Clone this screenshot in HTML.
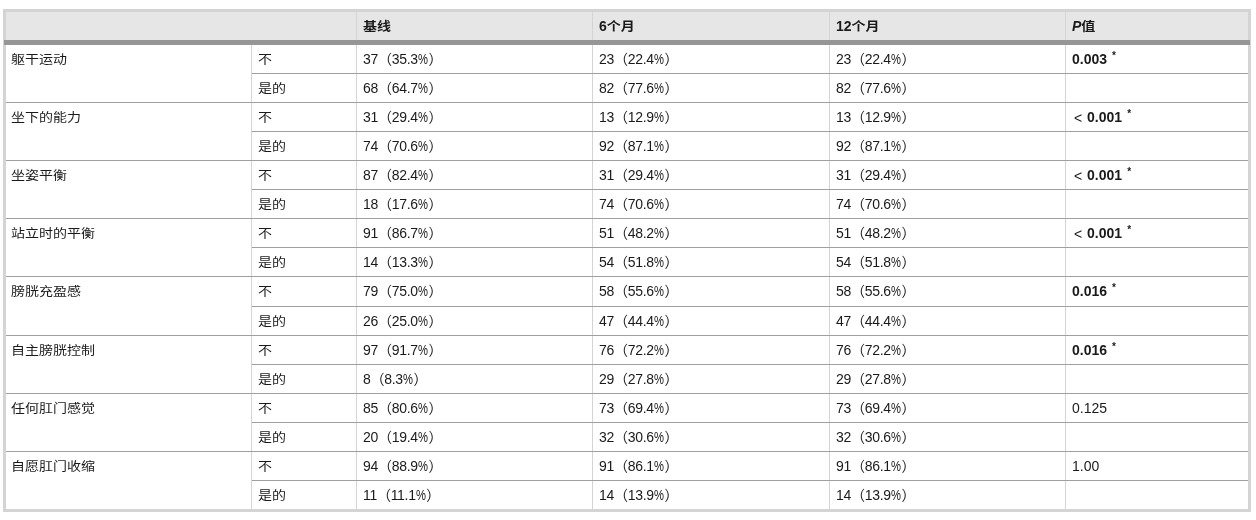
<!DOCTYPE html>
<html lang="zh-CN">
<head>
<meta charset="utf-8">
<title>表</title>
<style>
html,body{margin:0;padding:0;background:#fff;}
body{width:1256px;height:520px;overflow:hidden;position:relative;
  font-family:"Liberation Sans","Noto Sans CJK SC",sans-serif;font-size:14px;color:#1a1a1a;}
table{position:absolute;left:3px;top:9px;border-collapse:separate;border-spacing:0;
  border:3px solid #d4d4d4;table-layout:fixed;width:1248px;}
th,td{padding:0 0 0 6px;text-align:left;vertical-align:top;line-height:28px;white-space:nowrap;overflow:hidden;}
th{background:#e6e6e6;font-weight:bold;height:28px;border-bottom:5px solid #969696;}
th+th{border-left:1px solid #d4d4d4;}
td{height:28px;background:#fff;}
td.c1{background:linear-gradient(to left,#d4d4d4 1px,#fff 1px);padding-left:5px;}
td.c3,td.c4,td.c5,td.c6{background:linear-gradient(to right,#d4d4d4 1px,#fff 1px);padding-left:7px;}
td.c3,td.c4,td.c5{letter-spacing:-0.3px;}
tr.t td{border-top:1px solid #a0a0a0;}
tr.x td{height:29px;}
sup{font-size:10px;vertical-align:top;line-height:1;position:relative;top:6px;margin-left:5px;}
.z{display:inline-block;transform:scaleY(.87);transform-origin:0 60%;}
.pc{display:inline-block;transform:scaleX(.8);transform-origin:0 0;margin-right:-1.5px;}
.lt{position:relative;top:1px;margin-left:2px;margin-right:1px;}
.thick{position:absolute;left:4px;top:40px;width:1246px;height:5px;background:#969696;}
</style>
</head>
<body>
<table>
<colgroup><col style="width:246px"><col style="width:104px"><col style="width:236px"><col style="width:237px"><col style="width:236px"><col style="width:183px"></colgroup>
<thead><tr><th colspan="2"></th><th><span class="z">基线</span></th><th>6<span class="z">个月</span></th><th>12<span class="z">个月</span></th><th><i>P</i><span class="z">值</span></th></tr></thead>
<tbody>
<tr><td class="c1" rowspan="2"><span class="z">躯干运动</span></td><td class="c2"><span class="z">不</span></td><td class="c3">37（35.3<span class="pc">%</span>）</td><td class="c4">23（22.4<span class="pc">%</span>）</td><td class="c5">23（22.4<span class="pc">%</span>）</td><td class="c6"><b>0.003</b><sup><b>*</b></sup></td></tr>
<tr class="t"><td class="c2"><span class="z">是的</span></td><td class="c3">68（64.7<span class="pc">%</span>）</td><td class="c4">82（77.6<span class="pc">%</span>）</td><td class="c5">82（77.6<span class="pc">%</span>）</td><td class="c6"></td></tr>
<tr class="t"><td class="c1" rowspan="2"><span class="z">坐下的能力</span></td><td class="c2"><span class="z">不</span></td><td class="c3">31（29.4<span class="pc">%</span>）</td><td class="c4">13（12.9<span class="pc">%</span>）</td><td class="c5">13（12.9<span class="pc">%</span>）</td><td class="c6"><span class="lt">&lt;</span> <b>0.001</b><sup><b>*</b></sup></td></tr>
<tr class="t"><td class="c2"><span class="z">是的</span></td><td class="c3">74（70.6<span class="pc">%</span>）</td><td class="c4">92（87.1<span class="pc">%</span>）</td><td class="c5">92（87.1<span class="pc">%</span>）</td><td class="c6"></td></tr>
<tr class="t"><td class="c1" rowspan="2"><span class="z">坐姿平衡</span></td><td class="c2"><span class="z">不</span></td><td class="c3">87（82.4<span class="pc">%</span>）</td><td class="c4">31（29.4<span class="pc">%</span>）</td><td class="c5">31（29.4<span class="pc">%</span>）</td><td class="c6"><span class="lt">&lt;</span> <b>0.001</b><sup><b>*</b></sup></td></tr>
<tr class="t"><td class="c2"><span class="z">是的</span></td><td class="c3">18（17.6<span class="pc">%</span>）</td><td class="c4">74（70.6<span class="pc">%</span>）</td><td class="c5">74（70.6<span class="pc">%</span>）</td><td class="c6"></td></tr>
<tr class="t"><td class="c1" rowspan="2"><span class="z">站立时的平衡</span></td><td class="c2"><span class="z">不</span></td><td class="c3">91（86.7<span class="pc">%</span>）</td><td class="c4">51（48.2<span class="pc">%</span>）</td><td class="c5">51（48.2<span class="pc">%</span>）</td><td class="c6"><span class="lt">&lt;</span> <b>0.001</b><sup><b>*</b></sup></td></tr>
<tr class="t"><td class="c2"><span class="z">是的</span></td><td class="c3">14（13.3<span class="pc">%</span>）</td><td class="c4">54（51.8<span class="pc">%</span>）</td><td class="c5">54（51.8<span class="pc">%</span>）</td><td class="c6"></td></tr>
<tr class="t x"><td class="c1" rowspan="2"><span class="z">膀胱充盈感</span></td><td class="c2"><span class="z">不</span></td><td class="c3">79（75.0<span class="pc">%</span>）</td><td class="c4">58（55.6<span class="pc">%</span>）</td><td class="c5">58（55.6<span class="pc">%</span>）</td><td class="c6"><b>0.016</b><sup><b>*</b></sup></td></tr>
<tr class="t"><td class="c2"><span class="z">是的</span></td><td class="c3">26（25.0<span class="pc">%</span>）</td><td class="c4">47（44.4<span class="pc">%</span>）</td><td class="c5">47（44.4<span class="pc">%</span>）</td><td class="c6"></td></tr>
<tr class="t"><td class="c1" rowspan="2"><span class="z">自主膀胱控制</span></td><td class="c2"><span class="z">不</span></td><td class="c3">97（91.7<span class="pc">%</span>）</td><td class="c4">76（72.2<span class="pc">%</span>）</td><td class="c5">76（72.2<span class="pc">%</span>）</td><td class="c6"><b>0.016</b><sup><b>*</b></sup></td></tr>
<tr class="t"><td class="c2"><span class="z">是的</span></td><td class="c3">8（8.3<span class="pc">%</span>）</td><td class="c4">29（27.8<span class="pc">%</span>）</td><td class="c5">29（27.8<span class="pc">%</span>）</td><td class="c6"></td></tr>
<tr class="t"><td class="c1" rowspan="2"><span class="z">任何肛门感觉</span></td><td class="c2"><span class="z">不</span></td><td class="c3">85（80.6<span class="pc">%</span>）</td><td class="c4">73（69.4<span class="pc">%</span>）</td><td class="c5">73（69.4<span class="pc">%</span>）</td><td class="c6">0.125</td></tr>
<tr class="t"><td class="c2"><span class="z">是的</span></td><td class="c3">20（19.4<span class="pc">%</span>）</td><td class="c4">32（30.6<span class="pc">%</span>）</td><td class="c5">32（30.6<span class="pc">%</span>）</td><td class="c6"></td></tr>
<tr class="t"><td class="c1" rowspan="2"><span class="z">自愿肛门收缩</span></td><td class="c2"><span class="z">不</span></td><td class="c3">94（88.9<span class="pc">%</span>）</td><td class="c4">91（86.1<span class="pc">%</span>）</td><td class="c5">91（86.1<span class="pc">%</span>）</td><td class="c6">1.00</td></tr>
<tr class="t"><td class="c2"><span class="z">是的</span></td><td class="c3">11（11.1<span class="pc">%</span>）</td><td class="c4">14（13.9<span class="pc">%</span>）</td><td class="c5">14（13.9<span class="pc">%</span>）</td><td class="c6"></td></tr>
</tbody>
</table>
<div class="thick"></div>
</body>
</html>
